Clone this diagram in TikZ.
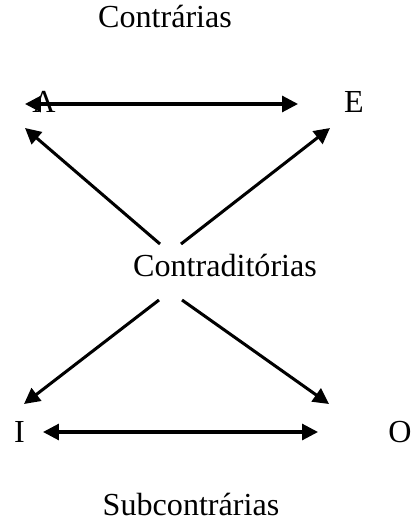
\documentclass[tikz,border=0pt]{standalone}
\usepackage{fontspec}
\setmainfont{Liberation Serif}
\usetikzlibrary{arrows.meta}
\begin{document}
\begin{tikzpicture}[x=0.38pt,y=-0.38pt,
  lbl/.style={inner sep=0pt,anchor=base,font=\fontsize{12.2}{14}\selectfont},
  arr/.style={line width=1.15pt,-{Triangle[length=6pt,width=6pt]}},
  darr/.style={line width=1.15pt,{Triangle[length=6pt,width=6pt]}-{Triangle[length=6pt,width=6pt]}}]
\useasboundingbox (0,0) rectangle (411,529);
\node[lbl] (contr) at (165,28) {Contrárias};
\node[lbl] (A) at (44,113) {A};
\node[lbl] (E) at (354,113) {E};
\node[lbl] (mid) at (225,277) {Contraditórias};
\node[lbl] (I) at (19.5,442) {I};
\node[lbl] (O) at (400,442) {O};
\node[lbl] (sub) at (191,515) {Subcontrárias};
\coordinate (ae1) at (25,104);
\coordinate (ae2) at (298,104);
\coordinate (io1) at (43,432);
\coordinate (io2) at (318,432);
\coordinate (ulS) at (160,244);
\coordinate (ulT) at (25,128);
\coordinate (urS) at (181,244);
\coordinate (urT) at (330,128);
\coordinate (llS) at (159,300);
\coordinate (llT) at (24,404);
\coordinate (lrS) at (182,300);
\coordinate (lrT) at (329,404);
\draw[darr] (ae1) -- (ae2);
\draw[darr] (io1) -- (io2);
\draw[arr] (ulS) -- (ulT);
\draw[arr] (urS) -- (urT);
\draw[arr] (llS) -- (llT);
\draw[arr] (lrS) -- (lrT);
\end{tikzpicture}
\end{document}
